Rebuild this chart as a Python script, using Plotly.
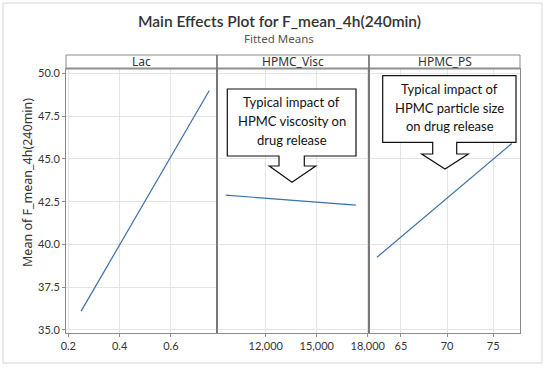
import plotly.graph_objects as go
from plotly.subplots import make_subplots

# ---- data ----
lac_levels = [0.25, 0.75]
lac_means = [36.1, 49.0]
visc_levels = [9650, 17300]
visc_means = [42.88, 42.3]
ps_levels = [62.4, 77.0]
ps_means = [39.25, 45.9]
panel_names = ["Lac", "HPMC_Visc", "HPMC_PS"]
y_ticks = [35.0, 37.5, 40.0, 42.5, 45.0, 47.5, 50.0]
callout1_lines = ["Typical impact of", "HPMC viscosity on", "drug release"]
callout2_lines = ["Typical impact of", "HPMC particle size", "on drug release"]

W, H = 550, 368
def px(x):
    return x / W
def py(y):
    return 1 - y / H

LINE = "#3a6fa6"
GRID = "#e4e4e4"
AX = "#8a8a8a"
FONT = "Noto Sans"
TICKFONT = dict(family="Lato", size=11, color="#333")

fig = make_subplots(rows=1, cols=3, shared_yaxes=True, horizontal_spacing=0)
fig.add_trace(go.Scatter(x=lac_levels, y=lac_means, mode="lines",
                         line=dict(color=LINE, width=1.2), showlegend=False), 1, 1)
fig.add_trace(go.Scatter(x=visc_levels, y=visc_means, mode="lines",
                         line=dict(color=LINE, width=1.2), showlegend=False), 1, 2)
fig.add_trace(go.Scatter(x=ps_levels, y=ps_means, mode="lines",
                         line=dict(color=LINE, width=1.2), showlegend=False), 1, 3)

x_edges = [66, 217, 369, 520]
y_top, y_bot = 68.5, 333
yd = [py(y_bot), py(y_top)]

common_x = dict(showgrid=True, gridcolor=GRID, gridwidth=1, zeroline=False,
                showline=True, linecolor=AX, linewidth=1, mirror=True, automargin=False,
                ticks="outside", ticklen=3, tickcolor=AX, tickfont=TICKFONT)
fig.update_xaxes(**common_x)
fig.update_layout(
    xaxis=dict(domain=[px(x_edges[0]), px(x_edges[1])], range=[0.191, 0.780],
               tickvals=[0.2, 0.4, 0.6], ticktext=["0.2", "0.4", "0.6"]),
    xaxis2=dict(domain=[px(x_edges[1]), px(x_edges[2])], range=[9135, 18076],
                tickvals=[12000, 15000, 18000], ticktext=["12,000", "15,000", "18,000"]),
    xaxis3=dict(domain=[px(x_edges[2]), px(x_edges[3])], range=[61.54, 77.9],
                tickvals=[65, 70, 75], ticktext=["65", "70", "75"]),
)
fig.update_yaxes(domain=yd, range=[34.82, 50.29], showgrid=True, gridcolor=GRID, automargin=False,
                 zeroline=False, showline=True, linecolor=AX, linewidth=1, mirror=True)
fig.update_layout(yaxis=dict(tickvals=y_ticks, ticktext=[f"{v:.1f}" for v in y_ticks],
                             ticks="outside", ticklen=3, tickcolor=AX, tickfont=TICKFONT))

shapes = []
# outer frame
shapes.append(dict(type="rect", xref="paper", yref="paper", x0=px(3), x1=px(542),
                   y0=py(363), y1=py(3), line=dict(color="#d6d6d6", width=1)))
# header strips
for i in range(3):
    shapes.append(dict(type="rect", xref="paper", yref="paper",
                       x0=px(x_edges[i]), x1=px(x_edges[i + 1]), y0=py(68.5), y1=py(55),
                       line=dict(color=AX, width=1), fillcolor="white"))
shapes.append(dict(type="line", xref="paper", yref="paper", x0=px(66), x1=px(520),
                   y0=py(68.5), y1=py(68.5), line=dict(color="#8f8f8f", width=2)))
# panel dividers
for xe in x_edges[1:3]:
    shapes.append(dict(type="line", xref="paper", yref="paper", x0=px(xe), x1=px(xe),
                       y0=py(333), y1=py(55), line=dict(color="#6e6e6e", width=1.3)))

def callout(l, r, t, b, sl, sr, sb, wl, wr, tx, ty):
    pts = [(l, t), (r, t), (r, b), (sr, b), (sr, sb), (wr, sb), (tx, ty),
           (wl, sb), (sl, sb), (sl, b), (l, b)]
    path = "M " + " L ".join(f"{px(a):.5f},{py(c):.5f}" for a, c in pts) + " Z"
    return dict(type="path", xref="paper", yref="paper", path=path,
                fillcolor="white", line=dict(color="#111", width=1.2), layer="above")

shapes.append(callout(227.3, 356, 89, 156, 279, 304.3, 166, 269.3, 315.7, 292, 182.3))
shapes.append(callout(382.7, 516, 75.7, 142.3, 432.7, 456.7, 154, 421.7, 468.3, 445, 169))

annotations = []
for i, name in enumerate(panel_names):
    annotations.append(dict(text=name, xref="paper", yref="paper",
                            x=px((x_edges[i] + x_edges[i + 1]) / 2), y=py(61.5),
                            showarrow=False, font=dict(family=FONT, size=12, color="#333"),
                            xanchor="center", yanchor="middle"))
for lines, cx, ys in [(callout1_lines, 291.5, [102.3, 121, 139.5]),
                      (callout2_lines, 449.5, [89, 107.7, 126.3])]:
    for txt, yy in zip(lines, ys):
        annotations.append(dict(text=txt, xref="paper", yref="paper", x=px(cx), y=py(yy),
                                showarrow=False, font=dict(family="Lato", size=13, color="#111"),
                                xanchor="center", yanchor="middle"))
annotations.append(dict(text="Mean of F_mean_4h(240min)", xref="paper", yref="paper",
                        x=px(28), y=py(183), showarrow=False, textangle=-90,
                        font=dict(family=FONT, size=12.5, color="#333"),
                        xanchor="center", yanchor="middle"))
annotations.append(dict(text="Main Effects Plot for F_mean_4h(240min)", xref="paper", yref="paper",
                        x=px(279), y=py(21), showarrow=False,
                        font=dict(family="Lato", size=15.5, color="#333", weight=600),
                        xanchor="center", yanchor="middle"))
annotations.append(dict(text="Fitted Means", xref="paper", yref="paper",
                        x=px(279), y=py(38.5), showarrow=False,
                        font=dict(family=FONT, size=11.5, color="#555"),
                        xanchor="center", yanchor="middle"))

fig.update_layout(width=W, height=H, autosize=False, margin=dict(l=0, r=0, t=0, b=0),
                  paper_bgcolor="white", plot_bgcolor="white",
                  shapes=shapes, annotations=annotations, showlegend=False)
fig.write_html("out.html",
               config={"responsive": False, "displayModeBar": False},
               post_script="document.body.style.margin='0';"
                           "document.body.style.overflow='hidden';"
                           "document.documentElement.style.overflow='hidden';")
